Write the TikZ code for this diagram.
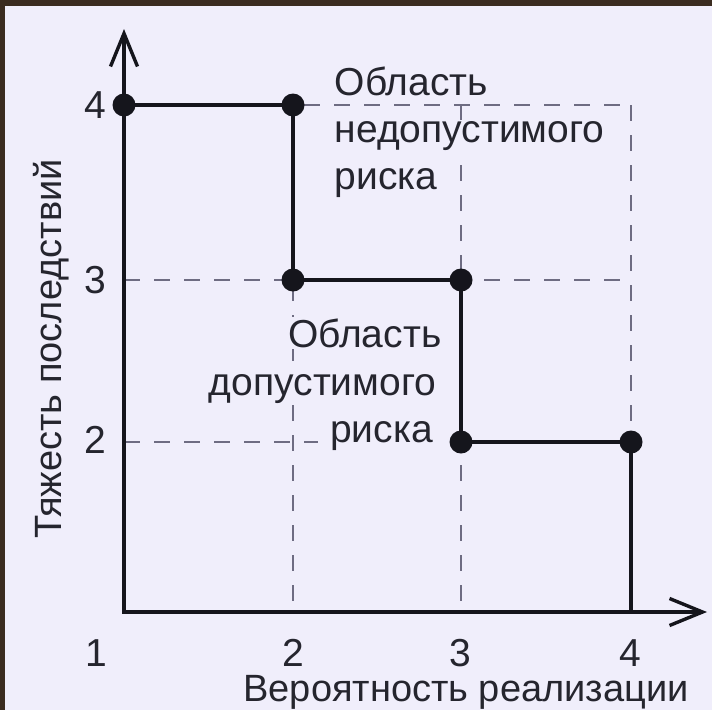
\documentclass[tikz,border=0pt]{standalone}
\usepackage{fontspec}
\setmainfont{Liberation Sans}
\usetikzlibrary{arrows.meta}
\definecolor{bg}{HTML}{F0EEFB}
\definecolor{framec}{HTML}{3B2C20}
\definecolor{ink}{HTML}{15151C}
\definecolor{gridc}{HTML}{6E6C82}
\definecolor{txt}{HTML}{25252E}
\tikzset{
  dot/.style={circle,fill=ink,inner sep=0pt,minimum size=23pt},
  gridline/.style={draw=gridc,line width=1.6pt,dash pattern=on 16pt off 14pt},
  stepline/.style={draw=ink,line width=3.2pt},
  axisline/.style={draw=ink,line width=4.2pt,{Straight Barb[length=33pt,width=27pt,line width=3.4pt]}-{Straight Barb[length=33pt,width=27pt,line width=3.4pt]}},
  lbl/.style={font=\fontsize{39}{46}\selectfont,text=txt,inner sep=1pt},
  title/.style={font=\fontsize{38}{46}\selectfont,text=txt,inner sep=0.5pt},
  region/.style={lbl,fill=bg,inner sep=1.5pt},
}
\begin{document}
\begin{tikzpicture}[x=1pt,y=-1pt]
\useasboundingbox (0,0) rectangle (712,710);
\fill[bg] (0,0) rectangle (712,710);
\fill[framec] (0,0) rectangle (712,6);
\fill[framec] (0,0) rectangle (5,710);
% key points
\coordinate (O) at (124,612);
\coordinate (ytip) at (124,29);
\coordinate (xtip) at (707,612);
\coordinate (C) at (631,612);
% grid
\path (124,105) coordinate (g14) (293,105) coordinate (g24) (293,280) coordinate (g23)
      (461,280) coordinate (g33) (461,442) coordinate (g32) (631,442) coordinate (g42);
\draw[gridline] (g14) -- (C |- g14);
\draw[gridline] (O |- g23) -- (C |- g23);
\draw[gridline] (O |- g32) -- (C |- g32);
\draw[gridline] (g24) -- (g24 |- O);
\draw[gridline] (g33 |- g14) -- (g33 |- O);
\draw[gridline] (C |- g14) -- (C);
% region labels
\node[region,anchor=base west] (u1) at (333,95) {Область};
\node[region,anchor=base west] (u2) at (333,142) {недопустимого};
\node[region,anchor=base west] (u3) at (333,189) {риска};
\node[region,anchor=base east] (l1) at (443,347) {Область};
\node[region,anchor=base east] (l2) at (438,395) {допустимого};
\node[region,anchor=base east,inner xsep=12pt] (l3) at (445,442) {риска};
% step line
\draw[stepline] (g14) -- (g24) -- (g23) -- (g33) -- (g32) -- (g42) -- (C);
\node[dot] (d1) at (g14) {};
\node[dot] (d2) at (g24) {};
\node[dot] (d3) at (g23) {};
\node[dot] (d4) at (g33) {};
\node[dot] (d5) at (g32) {};
\node[dot] (d6) at (g42) {};
% axes
\draw[axisline] (ytip) -- (O) -- (xtip);
% ticks
\node[lbl] (ty4) at (95,105) {4};
\node[lbl] (ty3) at (95,280) {3};
\node[lbl] (ty2) at (95,440) {2};
\node[lbl,inner sep=0pt] (tx1) at (96,653) {1};
\node[lbl,inner sep=0pt] (tx2) at (293,653) {2};
\node[lbl,inner sep=0pt] (tx3) at (460,653) {3};
\node[lbl,inner sep=0pt] (tx4) at (630,653) {4};
% axis titles
\node[title,anchor=base] (xt) at (466,701) {Вероятность реализации};
\node[title,rotate=90] (yt) at (51,349) {Тяжесть последствий};
\end{tikzpicture}
\end{document}
